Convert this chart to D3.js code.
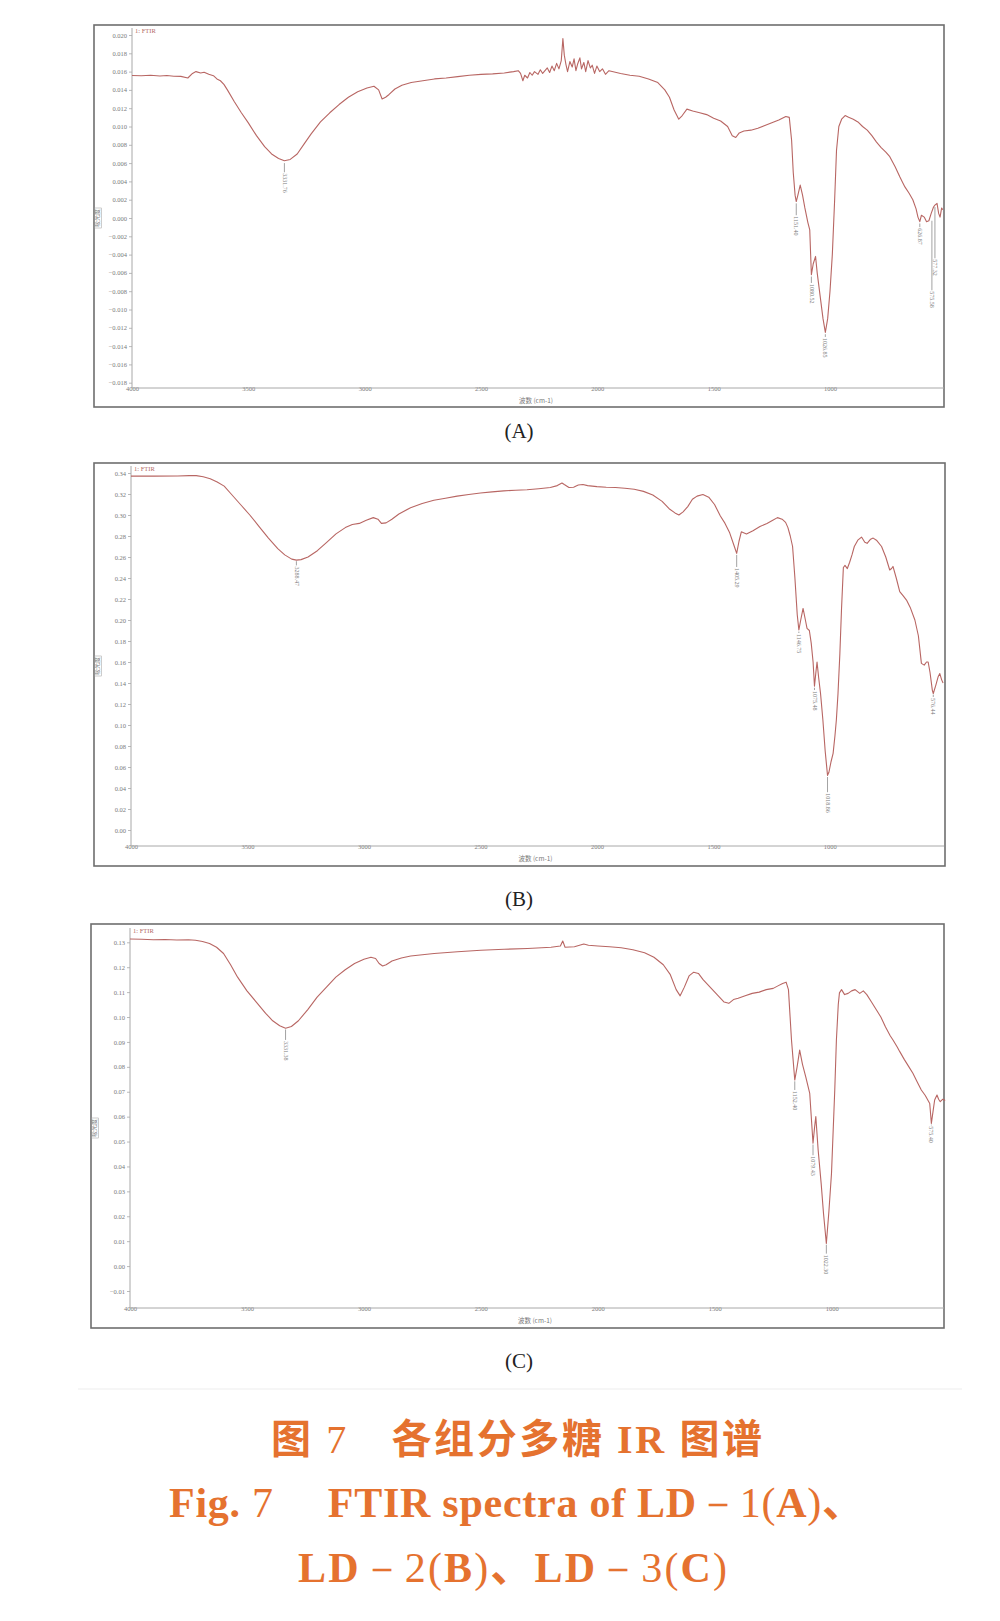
<!DOCTYPE html>
<html><head><meta charset="utf-8">
<script src="https://cdn.jsdelivr.net/npm/d3@7"></script>
<style>body{margin:0;background:#fff}</style>
</head><body>
<svg id="fig" width="1000" height="1621" xmlns="http://www.w3.org/2000/svg"></svg>
<script>
// ---------------- DATA ----------------
const xTicks = [4000, 3500, 3000, 2500, 2000, 1500, 1000];
const xMinorTicks = d3.range(4000, 500, -100);

const yTicksA = [0.020, 0.018, 0.016, 0.014, 0.012, 0.010, 0.008, 0.006, 0.004, 0.002, 0.000,
  -0.002, -0.004, -0.006, -0.008, -0.010, -0.012, -0.014, -0.016, -0.018];
const yTicksB = [0.34, 0.32, 0.30, 0.28, 0.26, 0.24, 0.22, 0.20, 0.18, 0.16, 0.14, 0.12, 0.10,
  0.08, 0.06, 0.04, 0.02, 0.00];
const yTicksC = [0.13, 0.12, 0.11, 0.10, 0.09, 0.08, 0.07, 0.06, 0.05, 0.04, 0.03, 0.02, 0.01,
  0.00, -0.01];

// LD-1 (A) spectrum: wavenumber (cm-1) and absorbance
const wnA = [4000,3960,3920,3880,3850,3820,3790,3760,3740,3725,3705,3690,3670,3650,3635,3620,3605,3590,
  3560,3530,3500,3465,3430,3400,3370,3345,3320,3290,3260,3230,3190,3150,3110,3070,3030,2990,2960,2940,
  2925,2910,2895,2870,2840,2800,2750,2700,2650,2600,2550,2500,2450,2400,2360,2340,
  2330,2320,2312,2300,2290,2280,2270,2255,2245,2235,2225,2215,2205,2195,2185,2175,2165,2155,2148,2142,
  2135,2128,2118,2108,2100,2092,2085,2075,2068,2058,2050,2040,2030,2022,2012,2002,1990,1978,1965,1950,
  1900,1860,1820,1780,1740,1710,1690,1670,1650,1635,1615,1590,1560,1530,1500,1470,1440,1420,1405,1390,
  1370,1340,1310,1280,1250,1220,1190,1175,1165,1158,1150,1145,1138,1128,1118,1108,1095,1087,1080,1072,
  1062,1055,1040,1030,1020,1010,1000,990,980,972,962,950,935,920,900,880,860,840,820,800,780,760,743,
  720,700,690,678,660,644,630,622,614,607,595,585,575,565,555,549,540,533,527,520,515];
const absA = [0.01557,0.01555,0.01560,0.01552,0.01558,0.01550,0.01548,0.01530,0.01580,0.01600,0.01585,
  0.01592,0.01570,0.01555,0.01520,0.01500,0.01460,0.01400,0.01270,0.01150,0.01040,0.00900,0.00780,
  0.00700,0.00650,0.00625,0.00640,0.00700,0.00810,0.00920,0.01050,0.01150,0.01240,0.01320,0.01380,
  0.01420,0.01440,0.01400,0.01300,0.01320,0.01350,0.01410,0.01450,0.01480,0.01500,0.01520,0.01530,
  0.01545,0.01560,0.01570,0.01575,0.01585,0.01600,0.01610,
  0.0158,0.0150,0.0156,0.0153,0.0159,0.0156,0.0160,0.0157,0.0162,0.0158,
  0.0161,0.0164,0.0159,0.0166,0.0161,0.0169,0.0163,0.0172,0.0196,0.0178,
  0.0168,0.0160,0.0171,0.0165,0.0174,0.0161,0.0168,0.0175,0.0163,0.0170,
  0.0160,0.0172,0.0164,0.0167,0.0158,0.0166,0.0160,0.0163,0.0157,0.0161,
  0.0158,0.0156,0.0155,0.0152,0.0148,0.0140,0.0132,0.0118,0.0108,0.0112,0.0119,0.0117,0.0115,0.0113,
  0.0109,0.0106,0.0100,0.0090,0.0088,0.0093,0.0095,0.0096,0.0098,0.0101,0.0104,0.0107,0.0111,0.0110,
  0.0085,0.0050,0.0025,0.0018,0.0025,0.0036,0.0025,0.0011,-0.0005,-0.0013,-0.0062,-0.0050,-0.0042,
  -0.0060,-0.0090,-0.0110,-0.0125,-0.0110,-0.0080,-0.0040,0.0020,0.0074,0.0100,0.0108,0.0112,0.0110,
  0.0108,0.0105,0.0100,0.0096,0.0090,0.0083,0.0077,0.0072,0.0067,0.0056,0.0045,0.0040,0.0034,0.0027,
  0.0020,0.0010,0.0001,-0.0004,0.0003,0.0001,-0.0004,-0.0003,0.0005,0.0012,0.0014,0.0016,0.0005,
  0.0001,0.0011,0.0009];

// LD-2 (B)
const wnB = [4000,3900,3800,3750,3720,3690,3660,3630,3600,3570,3530,3490,3450,3410,3370,3340,3310,3290,
  3270,3240,3200,3160,3120,3080,3050,3020,2990,2960,2940,2925,2905,2880,2850,2800,2750,2700,2650,2600,
  2550,2500,2450,2400,2350,2300,2250,2200,2170,2150,2140,2120,2100,2080,2060,2040,2000,1960,1920,1880,
  1840,1800,1760,1720,1690,1665,1648,1630,1610,1590,1570,1545,1520,1495,1470,1450,1430,1410,1400,1390,
  1380,1358,1330,1300,1270,1245,1225,1205,1190,1180,1170,1160,1150,1140,1133,1125,1115,1105,1098,1088,
  1080,1072,1066,1060,1055,1048,1040,1030,1020,1010,1004,995,986,978,972,965,957,950,942,935,925,915,
  905,895,880,864,850,840,825,814,800,778,760,743,735,729,715,700,685,671,655,635,620,607,595,585,578,
  570,560,556,545,535,528,520,514];
const absB = [0.3370,0.3370,0.3372,0.3375,0.3375,0.3365,0.3345,0.3315,0.3275,0.3200,0.3100,0.3000,
  0.2890,0.2780,0.2680,0.2620,0.2580,0.2570,0.2575,0.2600,0.2660,0.2740,0.2820,0.2880,0.2910,0.2920,
  0.2950,0.2975,0.2960,0.2920,0.2925,0.2960,0.3010,0.3070,0.3110,0.3140,0.3160,0.3180,0.3195,0.3210,
  0.3220,0.3230,0.3235,0.3240,0.3250,0.3262,0.3280,0.3305,0.3290,0.3262,0.3265,0.3285,0.3290,0.3280,
  0.3270,0.3265,0.3262,0.3255,0.3245,0.3225,0.3190,0.3130,0.3060,0.3020,0.3000,0.3030,0.3080,0.3150,
  0.3180,0.3195,0.3170,0.3100,0.2990,0.2920,0.2830,0.2700,0.2635,0.2750,0.2840,0.2820,0.2850,0.2890,
  0.2920,0.2950,0.2975,0.2960,0.2930,0.2880,0.2800,0.2700,0.2400,0.2050,0.1905,0.2000,0.2110,0.2000,
  0.1920,0.1900,0.1780,0.1600,0.1370,0.1500,0.1600,0.1450,0.1300,0.1050,0.0750,0.0520,0.0550,0.0650,
  0.0730,0.0900,0.1050,0.1300,0.1680,0.2100,0.2500,0.2520,0.2490,0.2550,0.2620,0.2700,0.2760,0.2790,
  0.2740,0.2730,0.2770,0.2780,0.2760,0.2700,0.2600,0.2476,0.2490,0.2510,0.2400,0.2270,0.2230,0.2190,
  0.2120,0.2000,0.1850,0.1587,0.1570,0.1600,0.1600,0.1500,0.1330,0.1300,0.1380,0.1460,0.1490,0.1430,
  0.1400];

// LD-3 (C)
const wnC = [4000,3950,3900,3850,3800,3750,3720,3690,3660,3630,3600,3570,3540,3500,3460,3420,3390,3360,
  3335,3310,3280,3240,3200,3160,3120,3080,3040,3000,2970,2950,2935,2920,2905,2880,2840,2800,2700,2600,
  2500,2400,2300,2200,2160,2150,2140,2100,2060,2040,2000,1950,1900,1850,1800,1760,1720,1690,1665,1648,
  1630,1610,1590,1570,1550,1520,1490,1460,1440,1420,1400,1370,1340,1310,1280,1250,1230,1210,1195,1185,
  1172,1158,1148,1137,1125,1111,1094,1080,1073,1068,1058,1045,1035,1023,1012,1001,987,980,972,967,958,
  945,930,915,900,880,865,850,830,810,790,770,750,738,720,709,690,670,653,635,617,600,581,574,567,560,
  550,543,536,525,515];
const absC = [0.1313,0.1312,0.1310,0.1311,0.1309,0.1310,0.1308,0.1303,0.1295,0.1280,0.1255,0.1210,
  0.1160,0.1105,0.1060,0.1015,0.0985,0.0965,0.0955,0.0962,0.0985,0.1030,0.1080,0.1120,0.1160,0.1190,
  0.1215,0.1232,0.1240,0.1235,0.1215,0.1205,0.1210,0.1225,0.1237,0.1245,0.1255,0.1262,0.1268,0.1272,
  0.1275,0.1280,0.1285,0.1305,0.1280,0.1282,0.1293,0.1288,0.1285,0.1282,0.1278,0.1270,0.1258,0.1240,
  0.1210,0.1170,0.1110,0.1085,0.1120,0.1165,0.1180,0.1175,0.1150,0.1120,0.1090,0.1060,0.1055,0.1070,
  0.1075,0.1085,0.1095,0.1100,0.1110,0.1115,0.1125,0.1135,0.1140,0.1110,0.0908,0.0747,0.0800,0.0867,
  0.0810,0.0760,0.0693,0.0493,0.0560,0.0600,0.0466,0.0330,0.0210,0.0091,0.0220,0.0372,0.0707,0.0908,
  0.1050,0.1097,0.1110,0.1090,0.1095,0.1105,0.1110,0.1095,0.1105,0.1090,0.1060,0.1030,0.1000,0.0960,
  0.0925,0.0908,0.0880,0.0861,0.0830,0.0800,0.0774,0.0740,0.0707,0.0685,0.0653,0.0573,0.0620,0.0667,
  0.0687,0.0670,0.0660,0.0670,0.0665];

// Peak annotations: wavenumber, absorbance at tip, absorbance where the label starts, label text
const peaksA = [
  {wn: 3345, tip: 0.0060, end: 0.0050, text: "3331.76"},
  {wn: 1145, tip: 0.0016, end: 0.0003, text: "1151.40"},
  {wn: 1080, tip: -0.0064, end: -0.0071, text: "1080.52"},
  {wn: 1020, tip: -0.0127, end: -0.0130, text: "1026.85"},
  {wn: 614, tip: -0.0006, end: -0.0010, text: "626.87"},
  {wn: 549, tip: 0.0012, end: -0.0044, text: "577.32"},
  {wn: 562, tip: -0.0003, end: -0.0079, text: "575.58"}
];
const peaksB = [
  {wn: 3290, tip: 0.2560, end: 0.2520, text: "3288.47"},
  {wn: 1400, tip: 0.2620, end: 0.2505, text: "1405.29"},
  {wn: 1133, tip: 0.1890, end: 0.1876, text: "1146.75"},
  {wn: 1066, tip: 0.1355, end: 0.1333, text: "1075.48"},
  {wn: 1010, tip: 0.0505, end: 0.0360, text: "1018.86"},
  {wn: 556, tip: 0.1290, end: 0.1267, text: "576.44"}
];
const peaksC = [
  {wn: 3335, tip: 0.0950, end: 0.0908, text: "3331.38"},
  {wn: 1158, tip: 0.0742, end: 0.0707, text: "1152.40"},
  {wn: 1080, tip: 0.0488, end: 0.0445, text: "1079.43"},
  {wn: 1023, tip: 0.0086, end: 0.0050, text: "1022.30"},
  {wn: 574, tip: 0.0568, end: 0.0565, text: "575.40"}
];

const panelNames = ["(A)", "(B)", "(C)"];
const legendNames = ["1: FTIR", "1: FTIR", "1: FTIR"];
const yTitle = "吸光度";
const xTitle = "波数 (cm-1)";

// ---------------- LAYOUT ----------------
const panels = [
  {wn: wnA, ab: absA, yTicks: yTicksA, peaks: peaksA, fmt: d3.format(".3f"), minorStep: 0.0005,
   frame: [94, 25, 944, 407], ax: 132, xEnd: 944, xDom: [4000, 510],
   yDom: [-0.018, 0.020], yRange: [382.7, 35], axTop: 28, axBot: 388, cap: 431},
  {wn: wnB, ab: absB, yTicks: yTicksB, peaks: peaksB, fmt: d3.format(".2f"), minorStep: 0.005,
   frame: [94, 463, 945, 866], ax: 131, xEnd: 944, xDom: [4000, 510],
   yDom: [0, 0.34], yRange: [830, 473], axTop: 466, axBot: 846, cap: 899},
  {wn: wnC, ab: absC, yTicks: yTicksC, peaks: peaksC, fmt: d3.format(".2f"), minorStep: 0.0025,
   frame: [91, 924, 944, 1328], ax: 130, xEnd: 944, xDom: [4000, 520],
   yDom: [-0.01, 0.13], yRange: [1291, 942.3], axTop: 928, axBot: 1308, cap: 1361}
];

const svg = d3.select("#fig");
svg.append("rect").attr("width", 1000).attr("height", 1621).attr("fill", "#fff");

const lineColor = "#b86663";
const axisColor = "#a8a8a8";
const textColor = "#7a7a7a";
const tickFont = "'Liberation Serif', 'DejaVu Serif', serif";

panels.forEach((p, i) => {
  const g = svg.append("g");
  const [fx0, fy0, fx1, fy1] = p.frame;
  g.append("rect").attr("x", fx0).attr("y", fy0).attr("width", fx1 - fx0).attr("height", fy1 - fy0)
    .attr("fill", "none").attr("stroke", "#6e6e6e").attr("stroke-width", 1.6);

  const x = d3.scaleLinear().domain(p.xDom).range([p.ax, p.xEnd]);
  const y = d3.scaleLinear().domain(p.yDom).range(p.yRange);

  // y axis
  const yMinor = d3.range(p.yDom[0], p.yDom[1] + 1e-9, p.minorStep);
  const yAx = g.append("g").attr("transform", `translate(${p.ax},0)`);
  yAx.call(d3.axisLeft(y).tickValues(yMinor).tickSize(1.5).tickFormat(""));
  yAx.call(d3.axisLeft(y).tickValues(p.yTicks).tickSize(3).tickPadding(2).tickFormat(p.fmt));
  yAx.selectAll("path.domain").remove();
  yAx.selectAll("line").attr("stroke", axisColor).attr("stroke-width", 0.8);
  yAx.selectAll("text").attr("fill", textColor).attr("font-size", 6.5).attr("font-family", tickFont);
  g.append("line").attr("x1", p.ax).attr("x2", p.ax).attr("y1", p.axTop).attr("y2", p.axBot)
    .attr("stroke", axisColor).attr("stroke-width", 1);

  // x axis
  const xMinor = xMinorTicks.filter(v => v >= p.xDom[1]);
  const xAx = g.append("g").attr("transform", `translate(0,${p.axBot})`);
  xAx.call(d3.axisTop(x).tickValues(xMinor).tickSize(1.5).tickFormat(""));
  xAx.call(d3.axisBottom(x).tickValues(xTicks).tickSize(0).tickPadding(3).tickFormat(d3.format("d")));
  xAx.selectAll("path.domain").remove();
  xAx.selectAll("line").attr("stroke", axisColor).attr("stroke-width", 0.8);
  xAx.selectAll("text").attr("fill", textColor).attr("font-size", 6.5).attr("font-family", tickFont);
  g.append("line").attr("x1", p.ax).attr("x2", p.xEnd).attr("y1", p.axBot).attr("y2", p.axBot)
    .attr("stroke", axisColor).attr("stroke-width", 1);

  // titles
  g.append("text").attr("x", (p.ax + p.xEnd) / 2 - 2).attr("y", p.axBot + 15)
    .attr("text-anchor", "middle").attr("font-size", 6.5).attr("fill", textColor)
    .attr("font-family", "'Noto Sans CJK SC', sans-serif").text(xTitle);
  const yMid = (p.axTop + p.axBot) / 2 + 10;
  g.append("text").attr("transform", `translate(${fx0 + 5},${yMid}) rotate(-90)`)
    .attr("text-anchor", "middle").attr("font-size", 6).attr("fill", textColor)
    .attr("font-family", "'Noto Sans CJK SC', sans-serif").text(yTitle);
  g.append("rect").attr("x", fx0 + 0.5).attr("y", yMid - 10).attr("width", 7).attr("height", 20)
    .attr("fill", "none").attr("stroke", "#999").attr("stroke-width", 0.5);
  g.append("text").attr("x", p.ax + 3).attr("y", p.axTop + 5).attr("font-size", 6.5)
    .attr("fill", "#b46a66").attr("font-family", tickFont).text(legendNames[i]);

  // spectrum
  const pts = p.wn.map((w, k) => [w, p.ab[k]]);
  g.append("path").datum(pts)
    .attr("d", d3.line().x(d => x(d[0])).y(d => y(d[1])))
    .attr("fill", "none").attr("stroke", lineColor).attr("stroke-width", 1.1)
    .attr("stroke-linejoin", "round");

  // peak labels
  p.peaks.forEach(pk => {
    g.append("line").attr("x1", x(pk.wn)).attr("x2", x(pk.wn)).attr("y1", y(pk.tip)).attr("y2", y(pk.end))
      .attr("stroke", "#8a8a8a").attr("stroke-width", 0.8);
    g.append("text").attr("transform", `translate(${x(pk.wn) - 0.5},${y(pk.end) + 1}) rotate(90)`)
      .attr("font-size", 6).attr("fill", textColor).attr("font-family", tickFont)
      .attr("dominant-baseline", "middle").text(pk.text);
  });

  // caption
  svg.append("text").attr("x", 519).attr("y", p.cap + 7).attr("text-anchor", "middle")
    .attr("font-size", 21).attr("fill", "#222").attr("font-family", "'Liberation Serif', serif")
    .text(panelNames[i]);
});

// separator line
svg.append("line").attr("x1", 78).attr("x2", 962).attr("y1", 1389).attr("y2", 1389)
  .attr("stroke", "#eeeeee").attr("stroke-width", 1.2);

// figure caption
const capColor = "#e5722f";
const serif = "'Liberation Serif', serif";
const cjk = "'Noto Sans CJK SC', sans-serif";
const cap = svg.append("g").attr("fill", capColor).attr("font-weight", "bold");
const t1 = cap.append("text").attr("x", 271).attr("y", 1453).attr("font-size", 40)
  .attr("textLength", 491).attr("lengthAdjust", "spacing");
t1.append("tspan").attr("font-family", cjk).text("图");
t1.append("tspan").attr("font-family", serif).attr("font-weight", "normal").text(" 7\u2003");
t1.append("tspan").attr("font-family", cjk).text("各组分多糖");
t1.append("tspan").attr("font-family", serif).text(" IR ");
t1.append("tspan").attr("font-family", cjk).text("图谱");

const t2 = cap.append("text").attr("x", 169).attr("y", 1517).attr("font-size", 42)
  .attr("font-family", serif).attr("textLength", 695).attr("lengthAdjust", "spacing");
t2.append("tspan").text("Fig. ");
t2.append("tspan").attr("font-weight", "normal").text("7\u2003 ");
t2.append("tspan").text("FTIR spectra of LD");
t2.append("tspan").attr("font-weight", "normal").text("－1(");
t2.append("tspan").text("A");
t2.append("tspan").attr("font-weight", "normal").text(")");
t2.append("tspan").attr("font-family", cjk).text("、");

const t3 = cap.append("text").attr("x", 298).attr("y", 1582).attr("font-size", 42)
  .attr("font-family", serif).attr("textLength", 429).attr("lengthAdjust", "spacing");
t3.append("tspan").text("LD");
t3.append("tspan").attr("font-weight", "normal").text("－2(");
t3.append("tspan").text("B");
t3.append("tspan").attr("font-weight", "normal").text(")");
t3.append("tspan").attr("font-family", cjk).text("、");
t3.append("tspan").text("LD");
t3.append("tspan").attr("font-weight", "normal").text("－3(");
t3.append("tspan").text("C");
t3.append("tspan").attr("font-weight", "normal").text(")");
</script>
</body></html>
